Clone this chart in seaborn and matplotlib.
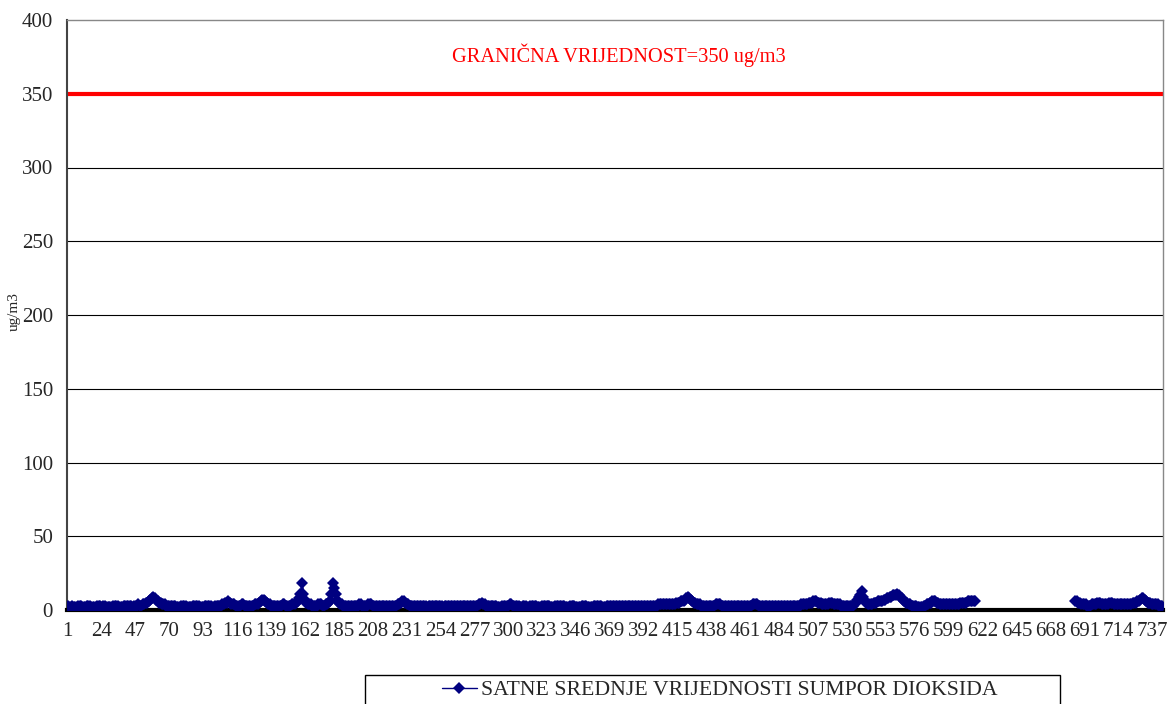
import numpy as np
import pandas as pd
import matplotlib.pyplot as plt
from matplotlib.patches import Rectangle
from matplotlib.lines import Line2D
import seaborn as sns

sns.set_style("white")
plt.rcParams['font.family'] = ['Liberation Serif', 'DejaVu Serif']

nan = np.nan

# hourly SO2 means, one row per day (24 h)
d01 = [3, 2, 2, 3, 2, 2, 2, 3, 3, 3, 2, 2, 2, 3, 3, 3, 2, 2, 2, 2, 3, 3, 3, 2]
d02 = [3, 3, 2, 2, 2, 2, 2, 3, 3, 3, 3, 2, 2, 2, 3, 3, 3, 3, 3, 3, 2, 3, 3, 3]
d03 = [4, 3, 3, 4, 4, 5, 5, 6, 7, 8, 9, 8, 7, 6, 5, 5, 4, 4, 4, 3, 3, 3, 3, 3]
d04 = [3, 3, 2, 2, 2, 3, 3, 3, 3, 2, 2, 2, 2, 3, 3, 3, 3, 3, 2, 2, 2, 3, 3, 3]
d05 = [3, 3, 2, 2, 3, 3, 3, 3, 3, 4, 4, 5, 5, 6, 5, 4, 4, 4, 3, 3, 3, 3, 4, 4]
d06 = [3, 3, 3, 3, 3, 3, 3, 4, 4, 4, 5, 6, 7, 7, 6, 5, 4, 4, 3, 3, 3, 3, 3, 3]
d07 = [3, 3, 4, 4, 3, 3, 3, 3, 4, 4, 4, 5, 6, 8, 11, 18, 11, 7, 5, 4, 4, 4, 3, 3]
d08 = [3, 3, 4, 4, 4, 3, 3, 4, 4, 5, 6, 11, 18, 15, 11, 7, 5, 4, 4, 3, 3, 3, 3, 3]
d09 = [3, 3, 3, 3, 3, 3, 4, 4, 3, 3, 3, 3, 4, 4, 4, 3, 3, 3, 3, 3, 3, 3, 3, 3]
d10 = [3, 3, 3, 3, 3, 3, 3, 3, 4, 4, 5, 6, 6, 5, 4, 4, 3, 3, 3, 3, 3, 3, 3, 3]
d11 = [3, 3, 3, 3, 2, 3, 3, 3, 3, 3, 3, 3, 3, 3, 3, 2, 3, 3, 3, 3, 3, 3, 3, 3]
d12 = [3, 3, 3, 3, 3, 3, 3, 3, 3, 3, 3, 3, 3, 3, 3, 4, 4, 5, 4, 4, 3, 3, 3, 3]
d13 = [3, 3, 3, 3, 2, 2, 2, 3, 3, 3, 3, 3, 4, 4, 3, 3, 3, 3, 3, 2, 2, 3, 3, 3]
d14 = [2, 2, 3, 3, 3, 3, 3, 2, 2, 2, 3, 3, 3, 3, 3, 3, 2, 2, 2, 3, 3, 3, 3, 3]
d15 = [3, 3, 2, 2, 2, 3, 3, 3, 3, 2, 2, 2, 2, 3, 3, 3, 3, 2, 2, 2, 2, 3, 3, 3]
d16 = [3, 3, 3, 2, 2, 2, 3, 3, 3, 3, 3, 3, 3, 3, 3, 3, 3, 3, 3, 3, 3, 3, 3, 3]
d17 = [3, 3, 3, 3, 3, 3, 3, 3, 3, 3, 3, 3, 3, 3, 3, 3, 3, 4, 4, 4, 4, 4, 4, 4]
d18 = [4, 4, 4, 4, 4, 5, 5, 5, 6, 6, 6, 7, 8, 9, 8, 7, 6, 5, 5, 4, 4, 4, 3, 3]
d19 = [3, 3, 3, 3, 3, 3, 3, 3, 4, 4, 4, 4, 3, 3, 3, 3, 3, 3, 3, 3, 3, 3, 3, 3]
d20 = [3, 3, 3, 3, 3, 3, 3, 3, 3, 4, 4, 4, 4, 3, 3, 3, 3, 3, 3, 3, 3, 3, 3, 3]
d21 = [3, 3, 3, 3, 3, 3, 3, 3, 3, 3, 3, 3, 3, 3, 3, 3, 3, 3, 4, 4, 4, 4, 4, 5]
d22 = [5, 5, 6, 6, 6, 5, 5, 5, 4, 4, 4, 4, 4, 5, 5, 5, 4, 4, 4, 4, 4, 3, 3, 3]
d23 = [3, 3, 3, 3, 3, 3, 4, 5, 7, 9, 10, 13, 9, 6, 5, 4, 4, 4, 4, 5, 5, 5, 6, 6]
d24 = [6, 6, 7, 7, 8, 8, 9, 9, 10, 10, 10, 11, 10, 9, 8, 7, 6, 5, 5, 4, 4, 3, 3, 3]
d25 = [3, 2, 2, 2, 2, 3, 3, 4, 4, 5, 5, 6, 6, 6, 5, 5, 4, 4, 4, 4, 4, 4, 4, 4]
d26 = [4, 4, 4, 4, 4, 4, 5, 5, 5, 5, 5, 6, 6, 6, 6, 6, 6, nan, nan, nan, nan, nan, nan, nan]
d27 = [nan] * 24
d28 = [nan] * 24
d29 = [nan] * 12 + [6, 6, 5, 5, 4, 4, 4, 4, 3, 3, 3, 4]
d30 = [4, 4, 4, 5, 5, 5, 4, 4, 4, 4, 4, 5, 5, 5, 4, 4, 4, 4, 4, 4, 4, 4, 4, 4]
d31 = [4, 4, 4, 5, 5, 5, 6, 6, 7, 8, 8, 7, 6, 5, 5, 5, 4, 4, 4, 4, 4, 3, 3, 3]

so2 = (d01 + d02 + d03 + d04 + d05 + d06 + d07 + d08 + d09 + d10 + d11 + d12 + d13
       + d14 + d15 + d16 + d17 + d18 + d19 + d20 + d21 + d22 + d23 + d24 + d25
       + d26 + d27 + d28 + d29 + d30 + d31)
hours = list(range(1, len(so2) + 1))
x_labels = list(range(1, len(so2) + 1, 23))
y_ticks = [0, 50, 100, 150, 200, 250, 300, 350, 400]
limit = 350
limit_text = "GRANIČNA VRIJEDNOST=350 ug/m3"
series_name = "SATNE SREDNJE VRIJEDNOSTI SUMPOR DIOKSIDA"

df = pd.DataFrame({'hour': hours, 'so2': so2})
df['seg'] = df['so2'].isna().cumsum()
df = df.dropna()

navy = '#000080'
fig = plt.figure(figsize=(11.69, 7.04), dpi=100)
ax = fig.add_axes([67 / 1169, 1 - 610 / 704, (1163 - 67) / 1169, 590 / 704])

# gridlines
for y in y_ticks[1:-1]:
    ax.axhline(y, color='black', lw=0.8, zorder=1)
ax.axhline(limit, color='#ff0000', lw=3, zorder=2)

sns.lineplot(data=df, x='hour', y='so2', units='seg', estimator=None, ax=ax,
             color=navy, lw=1.5, marker='D', markersize=6.5, markeredgewidth=0,
             zorder=3, legend=False)

ax.set_xlim(0.5, len(so2) + 0.5)
ax.set_ylim(0, 400)
ax.set_yticks(y_ticks)
ax.set_xticks(x_labels)
ax.set_xticklabels([str(v) for v in x_labels], fontsize=15)
ax.set_xticks(np.arange(0.5, len(so2) + 1, 10), minor=True)
ax.tick_params(axis='y', labelsize=15, length=5, width=1, color='#333333', pad=5)
ax.tick_params(axis='x', which='major', length=0, pad=9)
ax.tick_params(axis='x', which='minor', length=5, width=1.5, color='black')
ax.set_xlabel('')
ax.set_ylabel('')

for side in ['top', 'right']:
    ax.spines[side].set_color('#888888')
    ax.spines[side].set_linewidth(1)
ax.spines['left'].set_color('#444444')
ax.spines['left'].set_linewidth(1.5)
ax.spines['bottom'].set_color('black')
ax.spines['bottom'].set_linewidth(3)

fig.text(619 / 1169, 1 - 55 / 704, limit_text, color='#ff0000', fontsize=14.7,
         ha='center', va='center')
fig.text(14 / 1169, 1 - 312 / 704, 'ug/m3', rotation=90, fontsize=11,
         ha='center', va='center')

# legend box at the bottom
fig.patches.append(Rectangle((365 / 1169, -0.05), (1060 - 365) / 1169, 0.05 + 29 / 704,
                             transform=fig.transFigure, fill=False,
                             edgecolor='black', lw=1))
handle = Line2D([], [], color=navy, lw=1, marker='D', markersize=6, markeredgewidth=0)
fig.legend([handle], [series_name], loc='center left', frameon=False,
           bbox_to_anchor=(422 / 1169, 1 - 690 / 704), fontsize=15.7,
           handlelength=1.6, handletextpad=0.2)

fig.savefig('out.png', dpi=100)
